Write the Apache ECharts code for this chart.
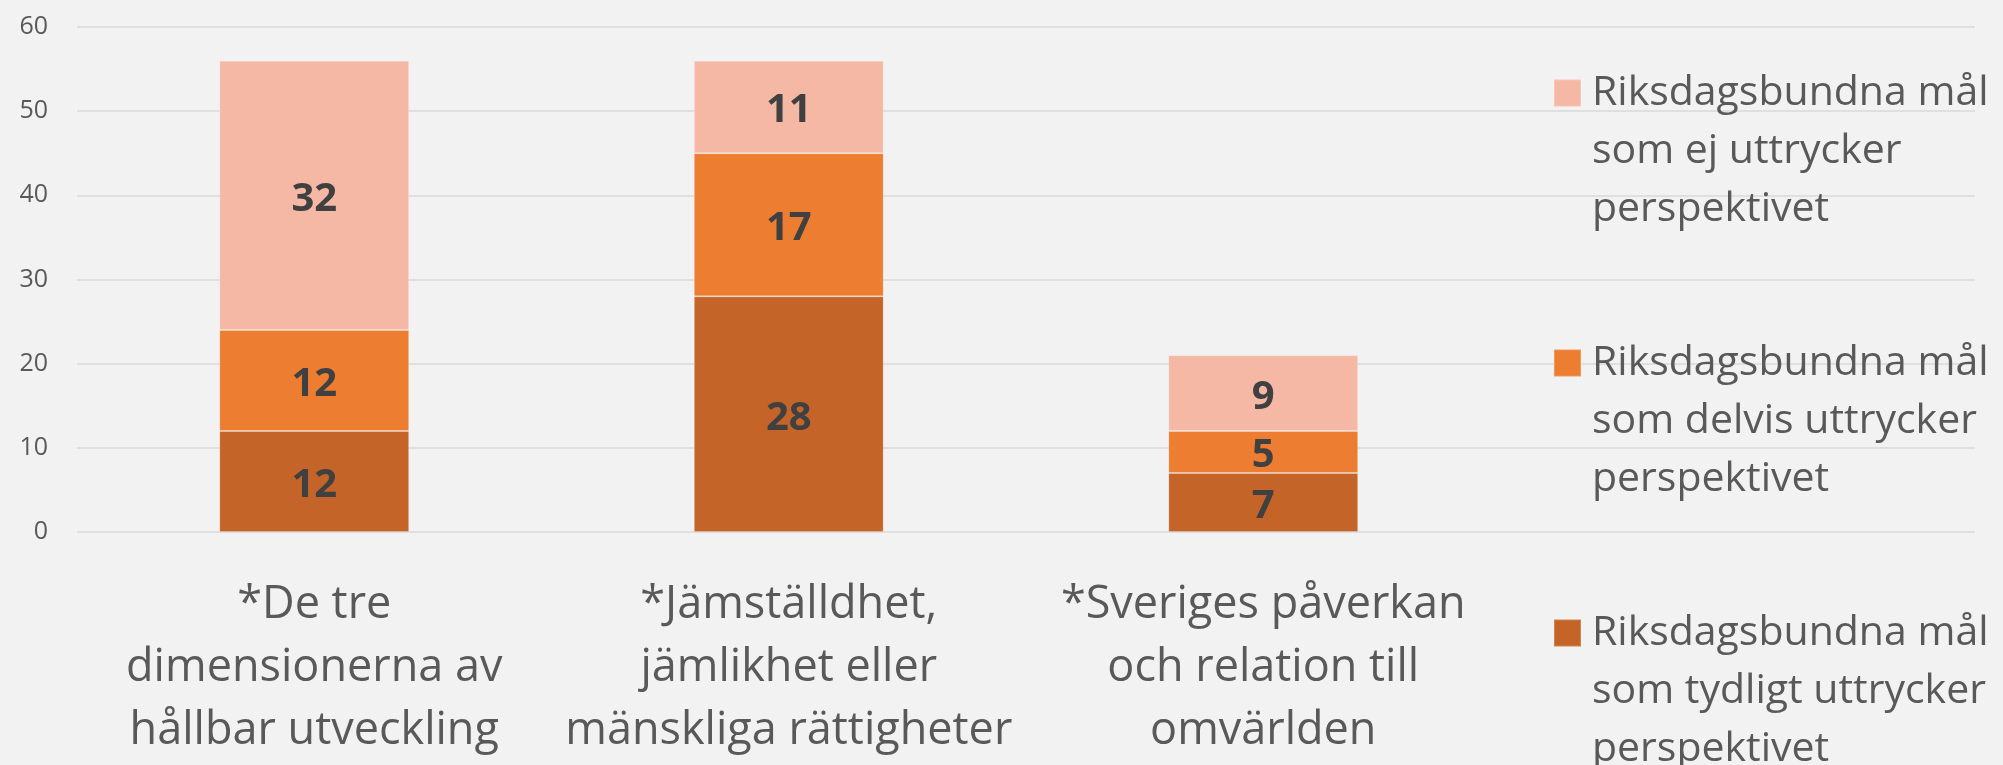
<!DOCTYPE html>
<html>
<head>
<meta charset="utf-8">
<script src="https://cdn.jsdelivr.net/npm/echarts@6/dist/echarts.min.js"></script>
<style>
    html, body { margin: 0; padding: 0; background: #f2f2f2; }
    #chart { width: 2003px; height: 765px; }
</style>
</head>
<body>
<div id="chart"></div>
<script>
// kategorier (den fjärde är tom, som i originalet)
var categories = [
    "*De tre\ndimensionerna av\nhållbar utveckling",
    "*Jämställdhet,\njämlikhet eller\nmänskliga rättigheter",
    "*Sveriges påverkan\noch relation till\nomvärlden",
    ""
];
var seriesNames = [
    "Riksdagsbundna mål\nsom tydligt uttrycker\nperspektivet",
    "Riksdagsbundna mål\nsom delvis uttrycker\nperspektivet",
    "Riksdagsbundna mål\nsom ej uttrycker\nperspektivet"
];
var tydligt = [12, 28, 7, null];
var delvis = [12, 17, 5, null];
var ej = [32, 11, 9, null];
var yTicks = [0, 10, 20, 30, 40, 50, 60];

var colors = ["#c46428", "#ed7d31", "#f4b8a5"];
var font = "Open Sans";

(function () {
    var myChart = echarts.init(document.getElementById("chart"));

    function makeSeries(name, data, color) {
        return {
            name: name,
            type: "bar",
            stack: "total",
            barWidth: "40%",
            data: data,
            itemStyle: {
                color: color,
                borderColor: "rgba(255,255,255,0.2)",
                borderWidth: 1
            },
            label: {
                show: true,
                position: "inside",
                offset: [0, 4],
                fontFamily: font,
                fontWeight: "bold",
                fontSize: 40,
                color: "#404040"
            }
        };
    }

    var option = {
        backgroundColor: "#f2f2f2",
        animation: false,
        grid: {
            left: 77,
            right: 28,
            top: 27,
            bottom: 233
        },
        legend: {
            orient: "vertical",
            left: 1553,
            top: -52,
            height: 1200,
            padding: 0,
            itemGap: -20,
            itemWidth: 27,
            itemHeight: 27,
            icon: "rect",
            data: [seriesNames[2], seriesNames[1], seriesNames[0]],
            // två tomma rader först så att rutan hamnar vid första raden
            formatter: function (name) {
                return "\n\n" + name;
            },
            textStyle: {
                fontFamily: font,
                fontSize: 41,
                lineHeight: 58,
                color: "#595959",
                padding: [0, 0, 0, 6]
            }
        },
        xAxis: {
            type: "category",
            data: categories,
            axisLine: { show: false },
            axisTick: { show: false },
            axisLabel: {
                interval: 0,
                margin: 42,
                fontFamily: font,
                fontSize: 45,
                lineHeight: 63,
                color: "#595959"
            }
        },
        yAxis: {
            type: "value",
            min: yTicks[0],
            max: yTicks[yTicks.length - 1],
            interval: 10,
            axisLine: { show: false },
            axisTick: { show: false },
            axisLabel: {
                margin: 29,
                fontFamily: font,
                fontSize: 25,
                color: "#595959"
            },
            splitLine: {
                lineStyle: { color: "#d9d9d9", width: 1.5 }
            }
        },
        series: [
            makeSeries(seriesNames[0], tydligt, colors[0]),
            makeSeries(seriesNames[1], delvis, colors[1]),
            makeSeries(seriesNames[2], ej, colors[2])
        ]
    };

    myChart.setOption(option);
    window.addEventListener("resize", function () {
        myChart.resize();
    });
})();
</script>
</body>
</html>
